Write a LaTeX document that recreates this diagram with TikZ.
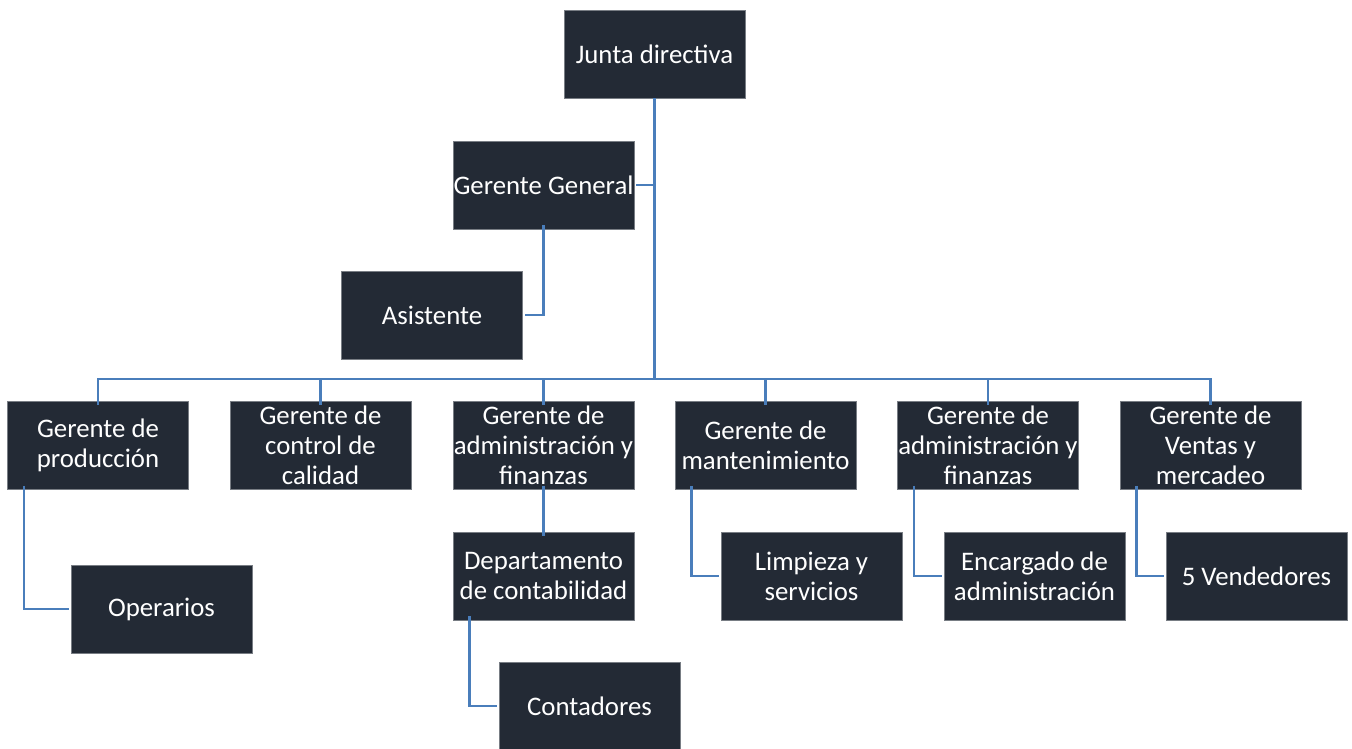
\documentclass[tikz,border=0pt]{standalone}
\usepackage{fontspec}
\setmainfont{Carlito}
\definecolor{boxfill}{RGB}{35,42,53}
\definecolor{boxline}{RGB}{120,125,132}
\definecolor{linkblue}{RGB}{74,126,187}
\begin{document}
\begin{tikzpicture}[x=1pt,y=-1pt,
  orgbox/.style={rectangle,fill=boxfill,draw=boxline,line width=0.8pt,
    minimum width=181pt,minimum height=88pt,inner sep=0pt,align=center,
    text=white,font=\fontsize{26.8}{30}\selectfont},
  link/.style={draw=linkblue,line width=2.8pt}]
\useasboundingbox (0,0) rectangle (1352,748);
\node[orgbox] (junta) at (654.5,54) {Junta directiva};
\node[orgbox] (gg) at (543.5,185) {Gerente General};
\node[orgbox] (asis) at (432,315) {Asistente};
\node[orgbox] (prod) at (98,445.5) {Gerente de\\producción};
\node[orgbox] (cal) at (320.5,445.5) {Gerente de\\control de\\calidad};
\node[orgbox] (adm1) at (543.5,445.5) {Gerente de\\administración y\\finanzas};
\node[orgbox] (mant) at (765.5,445.5) {Gerente de\\mantenimiento};
\node[orgbox] (adm2) at (988,445.5) {Gerente de\\administración y\\finanzas};
\node[orgbox] (ven) at (1210.5,445.5) {Gerente de\\Ventas y\\mercadeo};
\node[orgbox] (oper) at (161.5,609) {Operarios};
\node[orgbox] (dept) at (543.5,576) {Departamento\\de contabilidad};
\node[orgbox] (cont) at (589.5,706) {Contadores};
\node[orgbox] (limp) at (811.5,576) {Limpieza y\\servicios};
\node[orgbox] (enc) at (1034.5,576) {Encargado de\\administración};
\node[orgbox] (vend) at (1256.5,576) {5 Vendedores};
\coordinate (hub) at (654.5,379);
\draw[link] (junta.south) -- (hub);
\draw[link] ([xshift=2pt]gg.east) -- (gg.east -| hub);
\draw[link] ([yshift=4pt]gg.south) |- ([xshift=2pt]asis.east);
\draw[link] ([yshift=-4pt]prod.north) |- (hub) -| ([yshift=-4pt]ven.north);
\draw[link] ([yshift=-4pt]cal.north) -- (cal.north |- hub);
\draw[link] ([yshift=-4pt]adm1.north) -- (adm1.north |- hub);
\draw[link] ([yshift=-4pt]mant.north) -- (mant.north |- hub);
\draw[link] ([yshift=-4pt]adm2.north) -- (adm2.north |- hub);
\draw[link] ([xshift=-74pt,yshift=4pt]prod.south) |- ([xshift=-2pt]oper.west);
\draw[link] ([yshift=4pt]adm1.south) -- ([yshift=-4pt]dept.north);
\draw[link] ([xshift=-74pt,yshift=4pt]dept.south) |- ([xshift=-2pt]cont.west);
\draw[link] ([xshift=-74pt,yshift=4pt]mant.south) |- ([xshift=-2pt]limp.west);
\draw[link] ([xshift=-74pt,yshift=4pt]adm2.south) |- ([xshift=-2pt]enc.west);
\draw[link] ([xshift=-74pt,yshift=4pt]ven.south) |- ([xshift=-2pt]vend.west);
\end{tikzpicture}
\end{document}
